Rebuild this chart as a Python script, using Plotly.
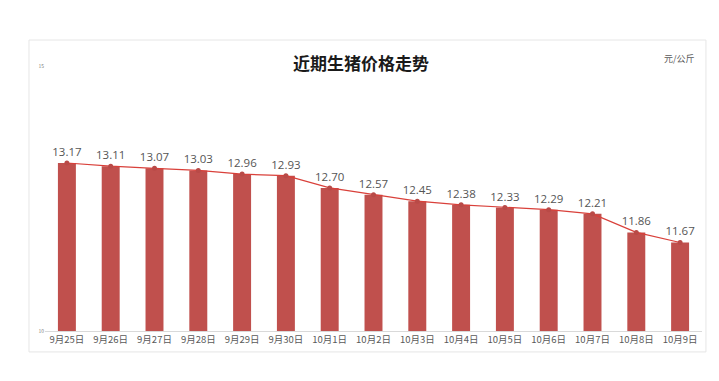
import plotly.graph_objects as go

dates = ["9月25日", "9月26日", "9月27日", "9月28日", "9月29日", "9月30日", "10月1日",
         "10月2日", "10月3日", "10月4日", "10月5日", "10月6日", "10月7日", "10月8日", "10月9日"]
prices = [13.17, 13.11, 13.07, 13.03, 12.96, 12.93, 12.70, 12.57, 12.45, 12.38, 12.33,
          12.29, 12.21, 11.86, 11.67]
ytick_vals = [10, 15]

fig = go.Figure()
fig.add_trace(go.Bar(x=dates, y=prices, marker=dict(color="#c0504d", line=dict(width=0)),
                     width=0.41, hoverinfo="skip"))
fig.add_trace(go.Scatter(x=dates, y=prices, mode="lines+markers+text",
                         line=dict(color="#d9403a", width=1.2),
                         marker=dict(color="#b94a47", size=5),
                         text=[f"{v:.2f}" for v in prices], textposition="top center",
                         textfont=dict(size=11.5, color="#555555", family="Open Sans, Noto Sans CJK SC"),
                         cliponaxis=False))

fig.update_layout(
    width=719, height=381,
    margin=dict(l=45, r=17, t=66, b=50),
    paper_bgcolor="white", plot_bgcolor="white",
    showlegend=False,
    font=dict(family="Noto Sans CJK SC", color="#595959"),
    xaxis=dict(type="category", range=[-0.5, 14.5], showgrid=False, showline=True,
               linecolor="#d9d9d9", linewidth=1, ticks="",
               tickfont=dict(size=9.5, color="#595959"), fixedrange=True),
    yaxis=dict(range=[10, 15], tickvals=ytick_vals, showgrid=False, zeroline=False,
               showline=False, tickfont=dict(size=5, color="#7f7f7f"), ticks="",
               fixedrange=True),
    shapes=[dict(type="rect", xref="paper", yref="paper", x0=-0.0244, x1=1.006,
                 y0=-0.079, y1=1.098, line=dict(color="#e6e6e6", width=1),
                 fillcolor="rgba(0,0,0,0)", layer="below")],
    annotations=[
        dict(text="<b>近期生猪价格走势</b>", xref="paper", yref="paper", x=0.481, y=1.015,
             xanchor="center", yanchor="middle", showarrow=False,
             font=dict(size=17, color="#1a1a1a", family="Noto Sans CJK SC")),
        dict(text="元/公斤", xref="paper", yref="paper", x=0.992, y=1.03,
             xanchor="right", yanchor="middle", showarrow=False,
             font=dict(size=9, color="#595959", family="Noto Sans CJK SC")),
    ],
)
fig.write_html("out.html", config={"displayModeBar": False},
               post_script="document.body.style.margin='0';")
